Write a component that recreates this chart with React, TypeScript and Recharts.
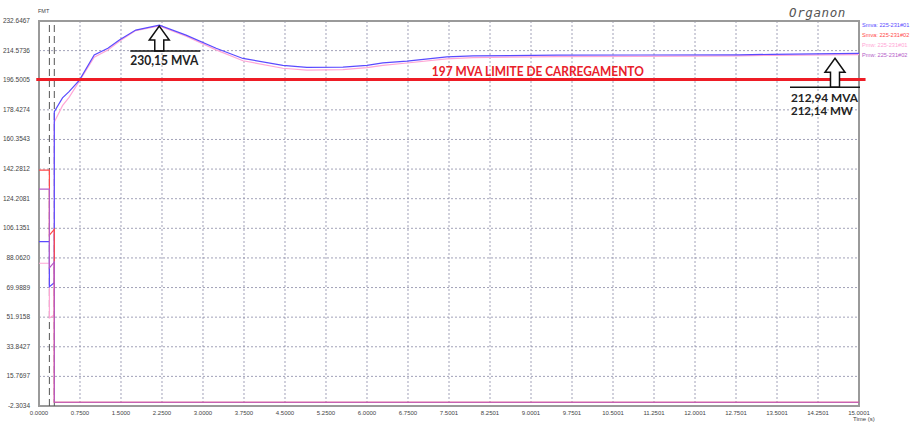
import {
  LineChart,
  Line,
  XAxis,
  YAxis,
  CartesianGrid,
  ReferenceLine,
  ReferenceDot,
  ReferenceArea,
  Legend,
} from "recharts";

// event times (s): fault on circuit 02, then trip
const T_FAULT = 0.19;
const T_TRIP = 0.28;

// circuit 01 (picks up the load after the trip)
const TIME_01 = [0, 0.19, 0.19, 0.28, 0.28, 0.43, 0.55, 0.74, 1.01, 1.26, 1.47, 1.77, 2.2, 2.69, 3.24, 3.73, 4.46, 4.9, 5.56, 6.0, 6.29, 6.73, 7.46, 7.94, 9.47, 11.0, 12.8, 13.4, 15.0];
const SMVA_01 = [98, 98, 70.5, 73, 177.3, 185.7, 189.5, 196.6, 211.9, 216, 221, 227.1, 230.15, 224, 216, 209.8, 205.6, 204.3, 204.5, 205.6, 207.1, 208.2, 210.8, 211.4, 211.8, 211.9, 212.0, 212.3, 212.94];
const PMW_01 = [84.8, 84.8, 51.4, 53.2, 171, 181, 186, 196, 210.5, 215, 220.3, 226.8, 229.7, 223.4, 215, 208.4, 203.8, 202.7, 203, 204.2, 205.6, 207, 209.5, 210.3, 210.9, 211.1, 211.4, 211.7, 212.14];

// circuit 02 (tripped)
const TIME_02 = [0, 0.19, 0.19, 0.28, 0.28, 15.0];
const SMVA_02 = [141.7, 141.7, 102, 105.5, 0, 0];
const PMW_02 = [130, 130, 82, 85.5, 0, 0];

const LIMIT_MVA = 197;
const PEAK = { t: 2.2, v: 230.15 };
const FINAL = { t: 15.0, mva: 212.94, mw: 212.14 };

const X_TICK_LABELS = ["0.0000", "0.7500", "1.5000", "2.2500", "3.0000", "3.7500", "4.5000", "5.2500", "6.0000", "6.7500", "7.5001", "8.2501", "9.0001", "9.7501", "10.5001", "11.2501", "12.0001", "12.7501", "13.5001", "14.2501", "15.0001"];
const Y_TICK_LABELS = ["-2.3034", "15.7697", "33.8427", "51.9158", "69.9889", "88.0620", "106.1351", "124.2081", "142.2812", "160.3543", "178.4274", "196.5005", "214.5736", "232.6467"];
const X_TICKS = X_TICK_LABELS.map(Number);
const Y_TICKS = Y_TICK_LABELS.map(Number);

const SERIES = [
  { name: "Smva: 225-231#01", time: TIME_01, values: SMVA_01, color: "#5a4bff" },
  { name: "Smva: 225-231#02", time: TIME_02, values: SMVA_02, color: "#ff4a4a" },
  { name: "Pmw: 225-231#01", time: TIME_01, values: PMW_01, color: "#ffa6d6" },
  { name: "Pmw: 225-231#02", time: TIME_02, values: PMW_02, color: "#b55cc8" },
];
// draw order: pink under blue, red under purple
const DRAW_ORDER = [2, 0, 1, 3];

const rows = (t: number[], v: number[]) => t.map((x, i) => ({ t: x, v: v[i] }));

const FONT = "'Liberation Sans', Arial, sans-serif";
const NOTE_FONT = "Lato, 'Liberation Sans', sans-serif";

function XTick({ x, y, index }: any) {
  return (
    <text x={x} y={y + 1} textAnchor="middle" fontSize={6} fill="#444" fontFamily={FONT}>
      {X_TICK_LABELS[index]}
    </text>
  );
}

function YTick({ x, y, index }: any) {
  return (
    <text x={x - 1} y={y + 2} textAnchor="end" fontSize={6.5} fill="#444" fontFamily={FONT}>
      {Y_TICK_LABELS[index]}
    </text>
  );
}

function UpArrow({ cx, cy, shaft }: { cx: number; cy: number; shaft: number }) {
  const pts = [
    [0, 0],
    [10, 14],
    [4.5, 14],
    [4.5, shaft],
    [-4.5, shaft],
    [-4.5, 14],
    [-10, 14],
  ]
    .map(([dx, dy]) => `${cx + dx},${cy + dy}`)
    .join(" ");
  return <polygon points={pts} fill="#fff" stroke="#111" strokeWidth={1.5} strokeLinejoin="miter" />;
}

function PeakNote(props: any) {
  const { cx, cy } = props;
  return (
    <g>
      <UpArrow cx={cx} cy={cy + 1} shaft={25} />
      <line x1={cx - 29} y1={cy + 26} x2={cx + 41} y2={cy + 26} stroke="#111" strokeWidth={1.5} />
      <text x={cx - 29} y={cy + 40} fontSize={13.5} fontWeight={700} fill="#222" fontFamily={NOTE_FONT} textLength={68} lengthAdjust="spacingAndGlyphs">
        {`${PEAK.v.toFixed(2).replace(".", ",")} MVA`}
      </text>
    </g>
  );
}

function FinalNote(props: any) {
  const { cx, cy } = props;
  const ax = cx - 24;
  const ay = cy + 5;
  return (
    <g>
      <UpArrow cx={ax} cy={ay} shaft={29} />
      <line x1={ax - 45} y1={ay + 29} x2={ax + 25} y2={ay + 29} stroke="#111" strokeWidth={1.5} />
      <text x={ax - 44} y={ay + 44} fontSize={11.5} fontWeight={700} fill="#222" fontFamily={NOTE_FONT} textLength={67} lengthAdjust="spacingAndGlyphs">
        {`${FINAL.mva.toFixed(2).replace(".", ",")} MVA`}
      </text>
      <text x={ax - 44} y={ay + 57} fontSize={11.5} fontWeight={700} fill="#222" fontFamily={NOTE_FONT} textLength={62} lengthAdjust="spacingAndGlyphs">
        {`${FINAL.mw.toFixed(2).replace(".", ",")} MW`}
      </text>
    </g>
  );
}

function LimitLabel({ viewBox }: any) {
  const { x, y, width } = viewBox;
  return (
    <text x={x + width * 0.477} y={y - 3} fontSize={13} fontWeight={700} fill="#e8202a" fontFamily={NOTE_FONT} textLength={212} lengthAdjust="spacingAndGlyphs">
      {`${LIMIT_MVA} MVA LIMITE DE CARREGAMENTO`}
    </text>
  );
}

function LegendList() {
  return (
    <div style={{ fontFamily: FONT, fontSize: 5.6, lineHeight: "10px", whiteSpace: "nowrap" }}>
      {SERIES.map((s) => (
        <div key={s.name} style={{ color: s.color }}>
          {s.name}
        </div>
      ))}
    </div>
  );
}

export default function App() {
  return (
    <div style={{ position: "relative", width: 912, height: 426, overflow: "hidden", background: "#fff" }}>
      <style>{`body{margin:0}`}</style>
      <div style={{ position: "absolute", left: 789, top: 5, fontFamily: "'DejaVu Sans Mono', monospace", fontStyle: "italic", fontSize: 12.5, color: "#555", letterSpacing: 0.6 }}>
        Organon
      </div>
      <div style={{ position: "absolute", left: 38, top: 8, fontFamily: FONT, fontSize: 5.5, color: "#444" }}>FMT</div>
      <div style={{ position: "absolute", left: 853, top: 416, fontFamily: FONT, fontSize: 6, color: "#444" }}>Time (s)</div>
      <LineChart width={912} height={426} margin={{ top: 21, right: 53, left: 0, bottom: 0 }}>
        <CartesianGrid stroke="#8a8aa6" strokeDasharray="2 2" strokeWidth={0.8} />
        <XAxis
          type="number"
          dataKey="t"
          domain={[0, X_TICKS[X_TICKS.length - 1]]}
          ticks={X_TICKS}
          interval={0}
          height={20}
          tickLine={false}
          axisLine={false}
          tick={<XTick />}
          allowDataOverflow
        />
        <YAxis
          type="number"
          dataKey="v"
          domain={[Y_TICKS[0], Y_TICKS[Y_TICKS.length - 1]]}
          ticks={Y_TICKS}
          interval={0}
          width={39}
          tickLine={false}
          axisLine={false}
          tick={<YTick />}
          allowDataOverflow
        />
        <ReferenceArea
          x1={0}
          x2={X_TICKS[X_TICKS.length - 1]}
          y1={Y_TICKS[0]}
          y2={Y_TICKS[Y_TICKS.length - 1]}
          fill="none"
          stroke="#9a9a9a"
          strokeWidth={2}
        />
        <ReferenceLine x={T_FAULT} stroke="#555" strokeDasharray="7 4" strokeWidth={1} />
        <ReferenceLine x={T_TRIP} stroke="#555" strokeDasharray="7 4" strokeWidth={1} />
        {DRAW_ORDER.map((i) => {
          const s = SERIES[i];
          return (
            <Line
              key={s.name}
              name={s.name}
              data={rows(s.time, s.values)}
              dataKey="v"
              type="linear"
              stroke={s.color}
              strokeWidth={1.2}
              dot={false}
              activeDot={false}
              isAnimationActive={false}
            />
          );
        })}
        <ReferenceLine
          segment={[
            { x: -0.05, y: LIMIT_MVA },
            { x: 15.12, y: LIMIT_MVA },
          ]}
          ifOverflow="visible"
          stroke="#ee1c25"
          strokeWidth={3}
          label={<LimitLabel />}
        />
        <ReferenceDot x={PEAK.t} y={PEAK.v} r={0} ifOverflow="visible" shape={<PeakNote />} />
        <ReferenceDot x={FINAL.t} y={FINAL.mva} r={0} ifOverflow="visible" shape={<FinalNote />} />
        <Legend
          content={<LegendList />}
          layout="horizontal"
          align="center"
          verticalAlign="middle"
          wrapperStyle={{ position: "absolute", left: 862, top: 20, width: 50 }}
        />
      </LineChart>
    </div>
  );
}
